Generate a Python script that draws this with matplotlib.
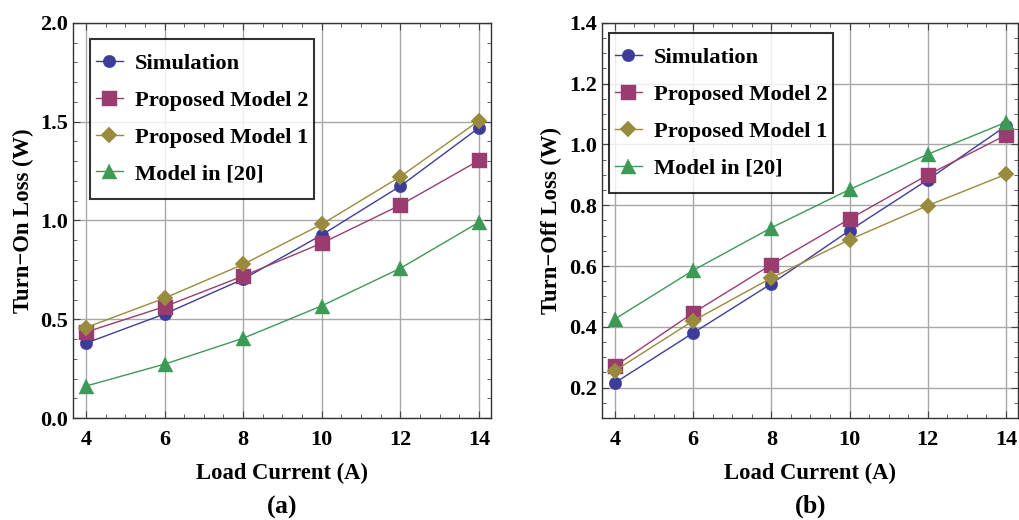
import matplotlib
matplotlib.use("Agg")
import matplotlib.pyplot as plt
from matplotlib.ticker import MultipleLocator
from matplotlib.path import Path

plt.rcParams['font.family'] = ['Liberation Serif', 'DejaVu Serif']
plt.rcParams['font.weight'] = 'bold'
plt.rcParams['mathtext.fontset'] = 'custom'
plt.rcParams['mathtext.rm'] = 'Liberation Serif'
plt.rcParams['mathtext.bf'] = 'Liberation Serif:bold'

current = [4, 6, 8, 10, 12, 14]
series_names = ["Simulation", "Proposed Model 2", "Proposed Model 1", "Model in [20]"]

on_simulation = [0.379, 0.527, 0.703, 0.927, 1.174, 1.469]
on_model2 = [0.435, 0.564, 0.719, 0.885, 1.078, 1.304]
on_model1 = [0.458, 0.607, 0.778, 0.981, 1.222, 1.505]
on_model20 = [0.162, 0.273, 0.404, 0.568, 0.758, 0.991]

off_simulation = [0.216, 0.380, 0.542, 0.717, 0.884, 1.061]
off_model2 = [0.271, 0.446, 0.605, 0.755, 0.900, 1.031]
off_model1 = [0.256, 0.420, 0.561, 0.687, 0.799, 0.902]
off_model20 = [0.426, 0.586, 0.726, 0.852, 0.968, 1.073]

colors = ["#3d3d99", "#993d71", "#998b3d", "#3d9956"]
markers = ["o", "s", "D", "^"]
msizes = [9.0, 10.8, 7.8, 10.8]


class VPadBox:
    """Square legend frame with extra vertical padding (pixels)."""
    def __init__(self, vpad):
        self.vpad = vpad

    def __call__(self, x0, y0, width, height, mutation_size):
        y0 -= self.vpad
        y1 = y0 + height + 2 * self.vpad
        x1 = x0 + width
        return Path([(x0, y0), (x1, y0), (x1, y1), (x0, y1), (x0, y0)], closed=True)


fig = plt.figure(figsize=(10.19, 5.20), dpi=100)
ax1 = fig.add_axes([0.0716, 0.196, 0.410, 0.760])
ax2 = fig.add_axes([0.5908, 0.196, 0.408, 0.760])


def draw(ax, data, ylim, ymajor, yminor, yfmt, ylabel, panel, legend_anchor, ylab_x):
    for vals, name, c, m, ms in zip(data, series_names, colors, markers, msizes):
        ax.plot(current, vals, color=c, marker=m, markersize=ms, linewidth=1.0,
                label=name, markeredgewidth=0.3, markeredgecolor=c, zorder=3)
    ax.set_xlim(3.67, 14.3)
    ax.set_ylim(*ylim)
    ax.xaxis.set_major_locator(MultipleLocator(2))
    ax.xaxis.set_minor_locator(MultipleLocator(0.5))
    ax.yaxis.set_major_locator(MultipleLocator(ymajor))
    ax.yaxis.set_minor_locator(MultipleLocator(yminor))
    ax.yaxis.set_major_formatter(plt.FormatStrFormatter(yfmt))
    ax.grid(True, which='major', color='#a8a8a8', linewidth=1.0, zorder=0)
    ax.tick_params(which='both', direction='in', top=True, right=True,
                   color='#444444', labelsize=16)
    ax.tick_params(axis='x', pad=8.5)
    ax.tick_params(axis='y', pad=3.5)
    ax.tick_params(which='major', length=5, width=0.8)
    ax.tick_params(which='minor', length=3, width=0.6)
    for lab in ax.get_xticklabels() + ax.get_yticklabels():
        lab.set_fontweight('bold')
    for s in ax.spines.values():
        s.set_color('#333333')
        s.set_linewidth(1.0)
    ax.set_xlabel("Load Current (A)", fontsize=16.3, fontweight='bold', labelpad=9)
    ax.set_ylabel(ylabel, fontsize=16.3, fontweight='bold')
    ax.yaxis.set_label_coords(ylab_x, 0.5)
    leg = ax.legend(loc='upper left', bbox_to_anchor=legend_anchor, fontsize=16.2,
                    frameon=True, fancybox=False, edgecolor='black',
                    handlelength=1.2, handletextpad=0.53, borderpad=0.25,
                    labelspacing=0.71, borderaxespad=0)
    frame = leg.get_frame()
    frame.set_linewidth(1.5)
    frame.set_boxstyle(VPadBox(9.0))
    for t in leg.get_texts():
        t.set_fontweight('bold')
    ax.text(0.5, -0.225, r"($\mathbf{" + panel + r"}$)", transform=ax.transAxes,
            ha='center', va='center', fontsize=18.5)


draw(ax1, [on_simulation, on_model2, on_model1, on_model20], (0.0, 2.0), 0.5, 0.1,
     '%.1f', "Turn\u2212On Loss (W)", "a", (0.041, 0.937), -0.094)
draw(ax2, [off_simulation, off_model2, off_model1, off_model20], (0.1, 1.4), 0.2, 0.05,
     '%.1f', "Turn\u2212Off Loss (W)", "b", (0.017, 0.952), -0.097)

fig.savefig("out.png", dpi=100)
